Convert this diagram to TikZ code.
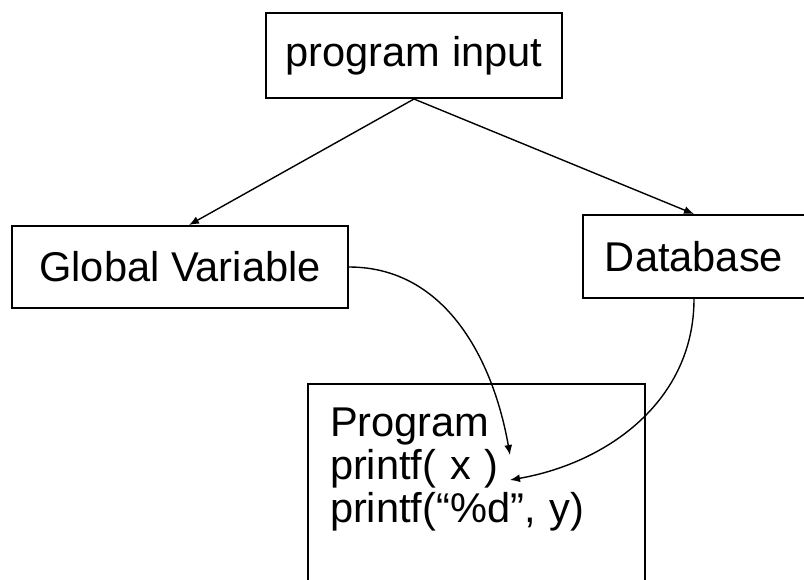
\documentclass[tikz,border=0pt]{standalone}
\usepackage{fontspec}
\setmainfont{Liberation Sans}
\usepackage{tikz}
\usetikzlibrary{arrows.meta,positioning}

\begin{document}
\begin{tikzpicture}[
  x=0.5pt,y=0.5pt,
  box/.style={draw,line width=1pt,inner sep=0pt,font=\fontsize{20.8}{21.5}\selectfont},
  arrow/.style={-{Latex[length=5pt,width=4pt]},line width=0.7pt}
]
\useasboundingbox (0,0) rectangle (804,-579);
\clip (0,0) rectangle (804,-579);
\node[box,minimum width=148pt,minimum height=42.5pt] (input) at (414,-55.5) {program input};
\node[box,minimum width=168pt,minimum height=41pt] (global) at (180,-267) {Global Variable};
\node[box,minimum width=111pt,minimum height=41.5pt] (db) at (694,-256.5) {Database};
\node[box,anchor=north west,align=left,text width=146.5pt,inner xsep=11pt,inner ysep=12pt,text depth=100pt] (prog) at (307,-383) {Program\\printf( x )\\printf(“\%d”, y)};
\coordinate (xtip) at (510,-455);
\coordinate (ytip) at (510,-480);
\draw[arrow] (input.south)--([xshift=4.5pt]global.north);
\draw[arrow] (input.south)--(db.north);
\draw[arrow] (global.east) to[out=0,in=100] (xtip);
\draw[arrow] (db.south) to[out=-90,in=10] (ytip);
\end{tikzpicture}
\end{document}
